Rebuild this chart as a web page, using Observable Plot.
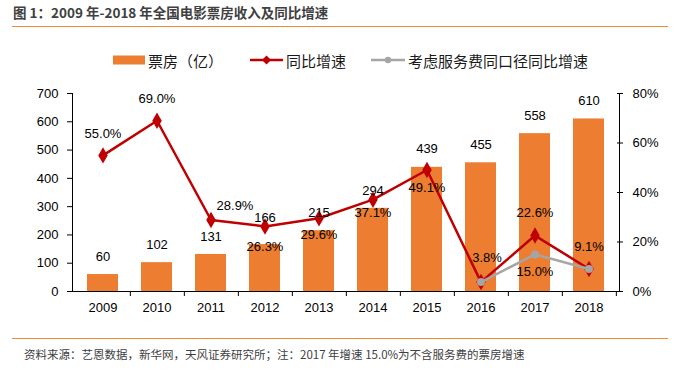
<!DOCTYPE html>
<html>
<head>
<meta charset="utf-8">
<script src="https://cdn.jsdelivr.net/npm/d3@7"></script>
<script src="https://cdn.jsdelivr.net/npm/@observablehq/plot@0.6"></script>
<style>
  html, body { margin: 0; padding: 0; background: #fff; }
  body { width: 678px; height: 383px; position: relative; overflow: hidden;
         font-family: "Noto Sans CJK SC", "Noto Sans", sans-serif; }
  #title { position: absolute; left: 13px; top: 3px; font-size: 13.5px; font-weight: bold;
           color: #404040; line-height: 18px; white-space: nowrap; }
  .hline { position: absolute; left: 12px; width: 656px; height: 0; border-top: 1.5px solid #EE8A35; }
  .leg { position: absolute; top: 49px; height: 22px; display: flex; align-items: center;
         font-size: 15px; color: #1a1a1a; white-space: nowrap; }
  .leg svg { display: block; margin-right: 3px; }
  #chart { position: absolute; left: 0; top: 70px; width: 678px; height: 250px; }
  #foot { position: absolute; left: 24px; top: 345px; font-size: 11.5px; color: #404040;
          line-height: 18px; white-space: nowrap; }
</style>
</head>
<body>
<div id="title">图 1：2009 年-2018 年全国电影票房收入及同比增速</div>
<div class="hline" style="top:26px"></div>
<div id="legend"></div>
<div id="chart"></div>
<div class="hline" style="top:338px"></div>
<div id="foot">资料来源：艺恩数据，新华网，天风证券研究所；注：2017 年增速 15.0%为不含服务费的票房增速</div>
<script>
// ---- data ----
const years = ["2009","2010","2011","2012","2013","2014","2015","2016","2017","2018"];
const boxOffice = [60, 102, 131, 166, 215, 294, 439, 455, 558, 610];      // 票房（亿）
const yoyGrowth = [55.0, 69.0, 28.9, 26.3, 29.6, 37.1, 49.1, 3.8, 22.6, 9.1]; // 同比增速 %
const svcYears = ["2016","2017","2018"];
const svcGrowth = [3.8, 15.0, 9.1];                                         // 考虑服务费同口径同比增速 %
const leftTicks = [0, 100, 200, 300, 400, 500, 600, 700];
const rightTicks = [0, 20, 40, 60, 80];
const seriesNames = ["票房（亿）", "同比增速", "考虑服务费同口径同比增速"];

// ---- styles ----
const ORANGE = "#ED7D31", RED = "#C00000", GRAY = "#A5A5A5";
const W = 678, H = 250, ML = 72, MR = 59, MT = 23, MB = 29;
const yMax = 700, pMax = 80, k = yMax / pMax;
const step = (W - ML - MR) / years.length;

const data = years.map((year, i) => ({year, box: boxOffice[i], yoy: yoyGrowth[i]}));
const svc = svcYears.map((year, i) => ({year, v: svcGrowth[i]}));

// label placement for percentage labels [dx, dy]
const pctPos = {"2009":[0,-22],"2010":[0,-22],"2011":[24,-14],"2012":[0,20],"2013":[0,17],
                "2014":[0,13],"2015":[0,18],"2016":[6,-24],"2017":[0,-23],"2018":[0,-22]};
const boxDy = {"2012": -27};

// ---- legend ----
const leg = document.getElementById("legend");
function legItem(left, swatch, label) {
  const d = document.createElement("div");
  d.className = "leg"; d.style.left = left + "px";
  d.innerHTML = swatch + "<span>" + label + "</span>";
  leg.appendChild(d);
}
legItem(113, `<svg width="32" height="10"><rect x="0" y="0.5" width="32" height="9" fill="${ORANGE}"/></svg>`, seriesNames[0]);
legItem(250, `<svg width="33" height="12"><line x1="0" y1="6" x2="33" y2="6" stroke="${RED}" stroke-width="2.5"/><path d="M16.5 1.5 L21 6 L16.5 10.5 L12 6 Z" fill="${RED}"/></svg>`, seriesNames[1]);
legItem(371, `<svg width="34" height="12"><line x1="0" y1="6" x2="34" y2="6" stroke="${GRAY}" stroke-width="2.5"/><circle cx="17" cy="6" r="3.2" fill="${GRAY}"/></svg>`, seriesNames[2]);

// ---- chart ----
const pctLabelMarks = data.map(d => Plot.text([d], {
  x: "year", y: r => r.yoy * k, text: r => r.yoy.toFixed(1) + "%",
  dx: pctPos[d.year][0], dy: pctPos[d.year][1]
}));
const boxLabelMarks = data.map(d => Plot.text([d], {
  x: "year", y: "box", text: r => String(r.box), dy: boxDy[d.year] ?? -18
}));

const chart = Plot.plot({
  width: W, height: H,
  marginLeft: ML, marginRight: MR, marginTop: MT, marginBottom: MB,
  style: {fontFamily: "'Liberation Sans', Arial, sans-serif", fontSize: "13px", color: "#000", background: "#fff"},
  x: {type: "band", domain: years, paddingInner: 0.43, paddingOuter: 0.215, label: null},
  y: {domain: [0, yMax], label: null},
  marks: [
    Plot.barY(data, {x: "year", y: "box", fill: ORANGE}),
    Plot.frame({anchor: "left", stroke: "#000"}),
    Plot.frame({anchor: "right", stroke: "#000"}),
    Plot.ruleY([0], {stroke: "#000"}),
    Plot.axisX({tickSize: 0, tickPadding: 11, fill: "#000", label: null}),
    Plot.axisX({tickSize: 5, tickFormat: () => "", dx: step / 2, label: null}),
    Plot.axisY({ticks: leftTicks, tickSize: 5, tickPadding: 9, label: null}),
    Plot.axisY({anchor: "right", ticks: rightTicks.map(p => p * k), tickFormat: v => Math.round(v / k) + "%",
                tickSize: 3, tickPadding: 10, label: null}),
    Plot.axisY({anchor: "right", ticks: rightTicks.map(p => p * k), tickFormat: () => "",
                tickSize: 3, dx: -3, label: null}),
    Plot.line(data, {x: "year", y: d => d.yoy * k, stroke: RED, strokeWidth: 2.5}),
    Plot.dot(data, {x: "year", y: d => d.yoy * k, symbol: "diamond", r: 5, fill: RED}),
    Plot.line(svc, {x: "year", y: d => d.v * k, stroke: GRAY, strokeWidth: 2.5}),
    Plot.dot(svc, {x: "year", y: d => d.v * k, r: 4, fill: GRAY}),
    ...boxLabelMarks,
    ...pctLabelMarks,
    Plot.text(svc.filter(d => d.year === "2017"), {x: "year", y: d => d.v * k, text: d => d.v.toFixed(1) + "%", dy: 17})
  ]
});
document.getElementById("chart").appendChild(chart);
</script>
</body>
</html>
